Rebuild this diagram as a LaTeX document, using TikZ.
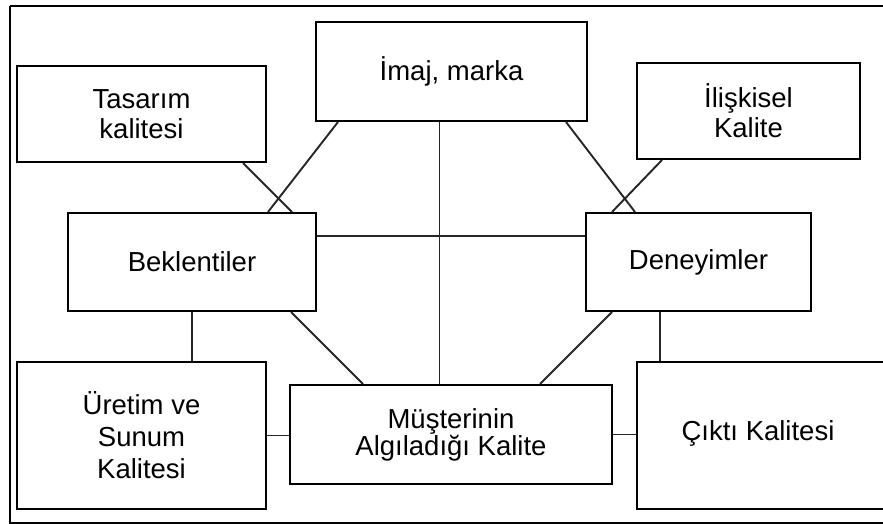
\documentclass[tikz,border=0pt]{standalone}
\usepackage{fontspec}
\setmainfont{Liberation Sans}
\begin{document}
\begin{tikzpicture}[x=1pt,y=-1pt,
  box/.style={draw=black, line width=2pt, fill=white, inner sep=0pt,
    align=center, font=\fontsize{27.5}{30}\selectfont},
  link/.style={draw=black!85, line width=1.9pt},
  frame/.style={draw=black, line width=2.5pt}]
  \useasboundingbox (0,0) rectangle (883,524);
  \clip (0,0) rectangle (883,524);
  \fill[white] (0,0) rectangle (883,524);

  % outer frame (runs past the right edge)
  \draw[frame] (10,6) -- (900,6);
  \draw[frame] (10,6) -- (10,523) -- (900,523);

  % boxes
  \node[box, minimum width=249, minimum height=96] (tasarim) at (141.5,114) {Tasarım\\kalitesi};
  \node[box, minimum width=271, minimum height=99] (imaj) at (451.5,71.5) {İmaj, marka};
  \node[box, minimum width=223, minimum height=96] (iliski) at (748.5,111) {İlişkisel\\Kalite};
  \node[box, minimum width=248, minimum height=98] (bek) at (192,262) {Beklentiler};
  \node[box, minimum width=225, minimum height=98] (den) at (698.5,262) {Deneyimler};
  \node[box, minimum width=249, minimum height=147,
        font=\fontsize{27.5}{32}\selectfont] (uretim) at (141.5,435.5) {Üretim ve\\Sunum\\Kalitesi};
  \node[box, minimum width=322, minimum height=99,
        font=\fontsize{27.5}{27}\selectfont] (mus) at (451,434.5) {Müşterinin\\Algıladığı Kalite};
  \node[box, minimum width=263, minimum height=147] (cikti) at (768.5,435.5) {};
  \node[font=\fontsize{27.5}{30}\selectfont, inner sep=0pt] (ciktitext) at (758,433) {Çıktı Kalitesi};

  % connectors
  \draw[link] ([xshift=-24pt]tasarim.south east) -- ([xshift=-25pt]bek.north east);
  \draw[link] ([xshift=23pt]imaj.south west) -- ([xshift=-49pt]bek.north east);
  \draw[link] ([xshift=-12pt]imaj.south) -- ([xshift=-12pt]imaj.south |- mus.north);
  \draw[link] ([yshift=-24pt]bek.north east) -- ([yshift=-24pt]bek.north east -| den.west);
  \draw[link] ([xshift=-22pt]imaj.south east) -- ([xshift=50pt]den.north west);
  \draw[link] ([xshift=26pt]iliski.south west) -- ([xshift=27pt]den.north west);
  \draw[link] (bek.south) -- (bek.south |- uretim.north);
  \draw[link] ([xshift=-26pt]bek.south east) -- ([xshift=74pt]mus.north west);
  \draw[link] ([xshift=27pt]den.south west) -- ([xshift=-73pt]mus.north east);
  \draw[link] ([xshift=75pt]den.south west) -- ([xshift=75pt]den.south west |- cikti.north);
  \draw[link] (uretim.east) -- (uretim.east -| mus.west);
  \draw[link] (mus.east) -- (mus.east -| cikti.west);
\end{tikzpicture}
\end{document}
